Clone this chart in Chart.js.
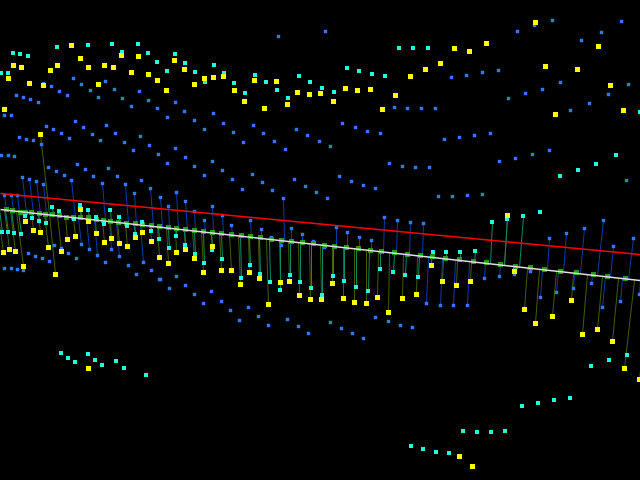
<!DOCTYPE html>
<html>
<head>
<meta charset="UTF-8" />
<title>Projection scatter</title>
<script src="https://cdn.jsdelivr.net/npm/chart.js"></script>
<style>
  html, body { margin: 0; padding: 0; background: #000; overflow: hidden; }
  canvas { display: block; background: #000; }
</style>
</head>
<body>
<canvas id="chart" width="640" height="480"></canvas>
<script>
// marks with no stem
const blueX = [278,73,81,90,98,105,114,122,131,139,148,157,167,175,184,194,204,213,223,233,243,253,263,274,285,296,307,319,43,51,59,67,16,23,30,38,4,11,46,53,61,69,75,83,92,100,106,115,124,133,140,149,158,175,185,19,26,33,41,1,8,14,
  325,517,534,552,621,601,581,451,466,482,498,560,542,525,508,628,608,589,570,394,407,421,435,342,355,367,380,330,444,459,474,490,549,532,515,
  167,194,212,499,626,482,204,222,232,242,252,262,272,294,305,316,48,56,64,77,85,93,108,117,141,
  176,169,185,194,203,211,221,230,239,248,258,268,287,298,308,160,54,61,68,76,28,35,42,49,4,11,17,23,105,128,136,151,159,
  327,339,351,363,375,389,402,415,429,438,452,467,375,388,400,412,330,341,352,363,324];
const blueY = [36,78,84,90,97,81,89,98,106,91,100,108,117,102,111,120,129,113,123,132,142,125,133,141,149,129,135,141,83,86,91,95,95,97,99,102,115,115,126,129,133,138,121,127,134,140,125,133,142,150,136,145,154,148,157,137,139,140,144,155,155,156,
  31,31,25,20,21,32,40,77,75,72,70,82,89,93,98,84,94,103,110,107,108,108,108,123,127,131,133,146,139,137,135,133,150,154,158,
  163,166,161,161,180,194,175,170,179,189,174,182,190,179,186,192,167,171,175,164,169,176,168,176,180,
  276,288,285,294,303,291,301,310,320,307,316,325,319,326,333,279,245,248,253,258,253,256,258,261,268,268,269,270,262,265,274,270,279,
  198,176,181,185,188,163,166,167,167,196,196,195,317,321,325,327,322,328,333,338,247];

const cyanX = [13,20,28,57,88,112,122,138,148,175,157,185,167,195,214,205,224,234,245,255,266,277,288,299,310,1,8,
  399,413,428,347,359,372,385,322,334,616,640,61,68,75,88,95,102,116,124,146,411,423,436,449,463,477,491,505,522,538,554,570,591,609,627,560,578,596,616,540];
const cyanY = [53,54,56,47,45,44,52,44,53,54,62,63,71,72,65,82,73,83,93,75,82,90,98,76,82,73,73,
  48,48,48,68,71,74,76,88,92,155,112,353,358,362,354,360,365,361,368,375,446,449,452,453,431,432,432,431,406,403,400,398,366,360,355,176,170,164,155,212];

const yellowX = [71,80,88,104,113,121,138,131,148,174,184,157,166,194,204,213,223,234,244,254,264,276,287,297,309,320,13,21,8,29,43,50,57,98,4,
  535,454,469,486,598,440,425,410,545,577,610,345,357,370,395,382,333,555,623,88,459,472];
const yellowY = [45,58,67,65,67,55,56,72,74,60,69,80,90,84,78,77,76,90,101,80,108,81,104,92,94,93,65,67,78,83,85,70,65,84,109,
  22,48,51,43,46,63,69,76,66,69,85,88,90,89,95,109,101,114,110,368,456,466];

// marks tied to the white line by a stem
const blueStemX = [4,11,17,22,29,36,43,71,81,89,97,102,111,119,125,134,143,150,160,168,176,185,194,204,212,222,231,250,261,271,283,281,291,302,313,336,347,359,371,384,397,410,423,426,440,453,467,484,499,514,530,549,540,556,566,573,584,591,603,602,613,620,633,639];
const blueStemY = [195,195,195,177,179,181,184,180,244,249,255,183,249,256,184,193,262,188,197,206,192,201,211,220,206,215,225,220,229,237,198,245,228,234,241,227,232,237,240,217,220,222,223,303,305,305,305,278,276,274,271,238,297,292,233,288,228,283,220,307,246,301,238,294];
const blueFootX = [6,13,19,26,33,40,46,75,78,86,94,105,109,116,128,136,140,153,162,169,178,187,195,205,213,223,232,251,261,271,284,281,291,302,313,336,347,359,371,383,396,409,422,428,442,455,469,485,500,515,530,547,542,558,563,574,580,592,597,605,610,622,628,640];
const blueFootY = [210,210,211,212,213,213,214,217,218,219,219,221,221,222,223,224,225,226,227,228,229,230,231,232,233,234,235,237,238,239,240,240,241,243,244,246,248,249,250,252,253,255,256,256,258,260,261,263,264,266,267,269,270,271,272,273,273,275,275,276,277,278,279,280];

const yellowStemX = [3,9,15,23,25,33,40,48,40,55,61,67,75,80,88,96,104,111,119,127,135,142,151,159,168,176,185,194,203,212,221,231,240,249,259,268,280,289,299,310,321,332,343,354,366,377,388,402,416,431,442,456,470,507,514,524,535,552,571,582,597,612,624,639];
const yellowStemY = [252,249,251,266,221,230,232,247,134,274,251,239,236,209,221,233,242,238,243,246,237,232,241,257,263,252,249,258,272,246,270,270,284,272,278,304,282,281,295,299,299,283,298,302,303,297,312,298,294,265,281,285,281,215,271,309,323,316,300,334,329,341,368,379];
const yellowFootX = [-3,4,10,16,24,31,38,44,49,49,57,65,73,81,88,95,102,110,117,125,134,141,150,157,166,175,184,192,201,211,219,229,238,248,258,266,279,288,298,309,320,332,343,354,366,378,389,403,417,431,443,457,471,504,514,527,539,556,573,587,602,618,634,650];
const yellowFootY = [209,209,210,211,212,212,213,214,214,214,215,216,217,218,219,220,220,221,222,223,224,225,226,226,227,228,229,230,231,232,233,234,235,236,238,239,240,241,242,243,244,246,247,248,250,251,252,254,255,257,258,260,261,265,266,268,269,271,273,274,276,278,280,281];

const cyanStemX = [2,8,14,21,25,32,39,46,52,59,74,80,88,96,104,110,119,127,135,142,151,159,169,176,185,195,204,212,222,241,250,260,270,280,290,300,311,322,333,344,356,368,380,393,405,418,433,446,460,475,492,507,523];
const cyanStemY = [232,232,233,234,216,218,221,223,207,211,219,205,210,217,224,210,217,226,234,222,231,239,248,236,245,254,263,250,259,278,265,274,282,290,275,282,288,295,276,281,287,291,269,272,275,277,252,252,252,251,222,219,216];
const cyanFootX = [-1,5,11,18,25,32,38,45,53,60,74,81,89,96,104,111,119,127,134,142,151,158,168,176,184,194,203,211,221,240,249,259,269,280,290,300,311,322,333,344,356,369,380,394,406,419,433,446,460,474,490,504,519];
const cyanFootY = [209,210,210,211,212,213,213,214,215,216,217,218,219,220,221,221,222,223,224,225,226,227,228,229,229,231,232,232,234,236,237,238,239,240,241,242,243,245,246,247,249,250,251,253,254,256,257,259,260,262,263,265,267];

// projected points on the white line
const greenX = [6,12,20,25,31,39,45,52,59,66,73,80,88,96,103,110,118,126,135,142,151,159,168,176,185,194,203,212,221,231,241,250,260,271,281,291,302,313,324,334,346,358,370,381,394,407,420,432,445,459,473,486,500,515,530,544,560,576,593,607,625];
const greenY = [209,210,212,212,212,213,214,214,215,217,217,217,217,219,220,221,222,223,223,224,225,226,227,228,229,230,231,232,233,234,235,236,237,239,240,241,242,243,245,246,247,248,250,251,252,254,255,256,258,259,261,262,264,266,267,269,271,272,274,276,278];

const whiteLineX = [0,640];
const whiteLineY = [209,280];
const redLineX = [0,640];
const redLineY = [193,254];

function pts(xs, ys) {
  return xs.map((x, i) => ({ x: x, y: ys[i] }));
}

// one polyline with a gap after every stem
function stems(xs, ys, fx, fy) {
  const out = [];
  xs.forEach((x, i) => {
    out.push({ x: x, y: ys[i] }, { x: fx[i], y: fy[i] }, { x: fx[i], y: null });
  });
  return out;
}

function marks(data, color, side, extra) {
  return Object.assign({
    type: 'scatter',
    data: data,
    showLine: false,
    backgroundColor: color,
    pointStyle: 'rect',
    pointRadius: side / Math.SQRT2,
    pointBorderWidth: 0,
    pointHoverRadius: 0
  }, extra || {});
}

function line(data, color, width) {
  return {
    type: 'line',
    data: data,
    borderColor: color,
    borderWidth: width,
    pointRadius: 0,
    fill: false,
    tension: 0,
    spanGaps: false
  };
}

// even sized squares sit on the x2/y2 scales so their edges land on whole pixels
const evenAxes = { xAxisID: 'x2', yAxisID: 'y2' };

new Chart(document.getElementById('chart'), {
  data: {
    datasets: [
      line(pts(whiteLineX, whiteLineY), '#e0e0e0', 1.6),
      line(pts(redLineX, redLineY), '#ff0000', 1.6),
      marks(pts(yellowX, yellowY), '#ffff00', 5),
      marks(pts(yellowStemX, yellowStemY), '#ffff00', 5),
      marks(pts(cyanX, cyanY), '#22ffdd', 4, evenAxes),
      marks(pts(cyanStemX, cyanStemY), '#22ffdd', 4, evenAxes),
      marks(pts(greenX, greenY), '#229911', 5),
      marks(pts(blueX, blueY), '#3377ff', 3.4),
      marks(pts(blueStemX, blueStemY), '#3377ff', 3.4),
      line(stems(cyanStemX, cyanStemY, cyanFootX, cyanFootY), '#0b8a66', 1),
      line(stems(yellowStemX, yellowStemY, yellowFootX, yellowFootY), '#3f5f00', 1),
      line(stems(blueStemX, blueStemY, blueFootX, blueFootY), '#0c3aa8', 1)
    ]
  },
  options: {
    responsive: false,
    animation: false,
    events: [],
    layout: { padding: 0, autoPadding: false },
    plugins: { legend: { display: false }, tooltip: { enabled: false } },
    scales: {
      x: { type: 'linear', display: false, min: -0.5, max: 639.5 },
      y: { type: 'linear', display: false, min: -0.5, max: 479.5, reverse: true },
      x2: { type: 'linear', display: false, min: 0, max: 640 },
      y2: { type: 'linear', display: false, min: 0, max: 480, reverse: true }
    }
  }
});
</script>
</body>
</html>
